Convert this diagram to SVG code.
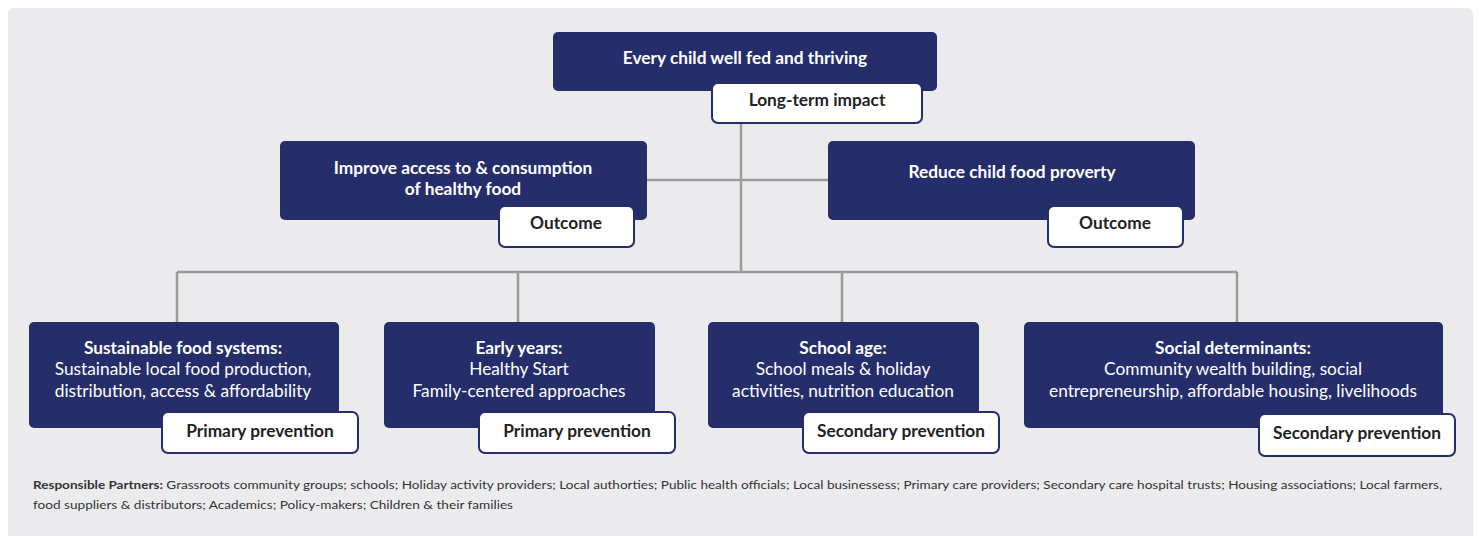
<svg xmlns="http://www.w3.org/2000/svg" width="1479" height="536" viewBox="0 0 1479 536">
  <style>
    .panel { fill: #ebebee; }
    .box { fill: #252e6b; }
    .tag { fill: #ffffff; stroke: #252e6b; stroke-width: 2; }
    .title { font-family: Lato, "Liberation Sans", sans-serif; font-weight: 700; font-size: 17.3px; fill: #ffffff; text-anchor: middle; }
    .body { font-family: Lato, "Liberation Sans", sans-serif; font-weight: 400; font-size: 17.3px; fill: #ffffff; text-anchor: middle; }
    .tagtext { font-family: Lato, "Liberation Sans", sans-serif; font-weight: 700; font-size: 17.3px; fill: #222222; text-anchor: middle; }
    .note { font-family: Lato, "Liberation Sans", sans-serif; font-size: 11.5px; fill: #333333; }
    .link { fill: none; stroke: #9b9b9b; stroke-width: 2.5; }
  </style>

  <rect class="panel" x="8" y="8" width="1465" height="540" rx="6"/>

  <!-- connectors -->
  <g id="connectors">
    <path class="link" d="M741,123 V272"/>
    <path class="link" d="M647,180 H828"/>
    <path class="link" d="M177,272 H1237"/>
    <path class="link" d="M177,272 V322"/>
    <path class="link" d="M518,272 V322"/>
    <path class="link" d="M842,272 V322"/>
    <path class="link" d="M1237,272 V322"/>
  </g>

  <!-- long-term impact -->
  <g id="impact">
    <rect class="box" x="553" y="32" width="384" height="59" rx="5"/>
    <text class="title" x="745" y="64">Every child well fed and thriving</text>
    <rect class="tag" x="712" y="83" width="210" height="40" rx="6"/>
    <text class="tagtext" x="817" y="106">Long-term impact</text>
  </g>

  <!-- outcomes -->
  <g id="outcome-access">
    <rect class="box" x="280" y="141" width="367" height="79" rx="5"/>
    <text class="title" x="463" y="174">Improve access to &amp; consumption</text>
    <text class="title" x="463" y="195">of healthy food</text>
    <rect class="tag" x="499" y="206" width="135" height="41" rx="6"/>
    <text class="tagtext" x="566" y="229">Outcome</text>
  </g>

  <g id="outcome-poverty">
    <rect class="box" x="828" y="141" width="367" height="79" rx="5"/>
    <text class="title" x="1012" y="178">Reduce child food proverty</text>
    <rect class="tag" x="1048" y="206" width="135" height="41" rx="6"/>
    <text class="tagtext" x="1115" y="229">Outcome</text>
  </g>

  <!-- interventions -->
  <g id="food-systems">
    <rect class="box" x="29" y="322" width="310" height="106" rx="5"/>
    <text class="title" x="183" y="354">Sustainable food systems:</text>
    <text class="body" x="183" y="375">Sustainable local food production,</text>
    <text class="body" x="183" y="397">distribution, access &amp; affordability</text>
    <rect class="tag" x="162" y="412" width="196" height="41" rx="6"/>
    <text class="tagtext" x="260" y="437">Primary prevention</text>
  </g>

  <g id="early-years">
    <rect class="box" x="384" y="322" width="271" height="106" rx="5"/>
    <text class="title" x="519" y="354">Early years:</text>
    <text class="body" x="519" y="375">Healthy Start</text>
    <text class="body" x="519" y="397">Family-centered approaches</text>
    <rect class="tag" x="479" y="412" width="196" height="41" rx="6"/>
    <text class="tagtext" x="577" y="437">Primary prevention</text>
  </g>

  <g id="school-age">
    <rect class="box" x="708" y="322" width="271" height="106" rx="5"/>
    <text class="title" x="843" y="354">School age:</text>
    <text class="body" x="843" y="375">School meals &amp; holiday</text>
    <text class="body" x="843" y="397">activities, nutrition education</text>
    <rect class="tag" x="803" y="412" width="196" height="41" rx="6"/>
    <text class="tagtext" x="901" y="437">Secondary prevention</text>
  </g>

  <g id="social-determinants">
    <rect class="box" x="1024" y="322" width="419" height="106" rx="5"/>
    <text class="title" x="1233" y="354">Social determinants:</text>
    <text class="body" x="1233" y="375">Community wealth building, social</text>
    <text class="body" x="1233" y="397">entrepreneurship, affordable housing, livelihoods</text>
    <rect class="tag" x="1259" y="414" width="196" height="42" rx="6"/>
    <text class="tagtext" x="1357" y="439">Secondary prevention</text>
  </g>

  <!-- partners note -->
  <g id="partners">
    <text class="note" x="33" y="489" textLength="1409" lengthAdjust="spacingAndGlyphs"><tspan font-weight="700">Responsible Partners:</tspan> Grassroots community groups; schools; Holiday activity providers; Local authorties; Public health officials; Local businessess; Primary care providers; Secondary care hospital trusts; Housing associations; Local farmers,</text>
    <text class="note" x="33" y="509" textLength="480" lengthAdjust="spacingAndGlyphs">food suppliers &amp; distributors; Academics; Policy-makers; Children &amp; their families</text>
  </g>
</svg>
